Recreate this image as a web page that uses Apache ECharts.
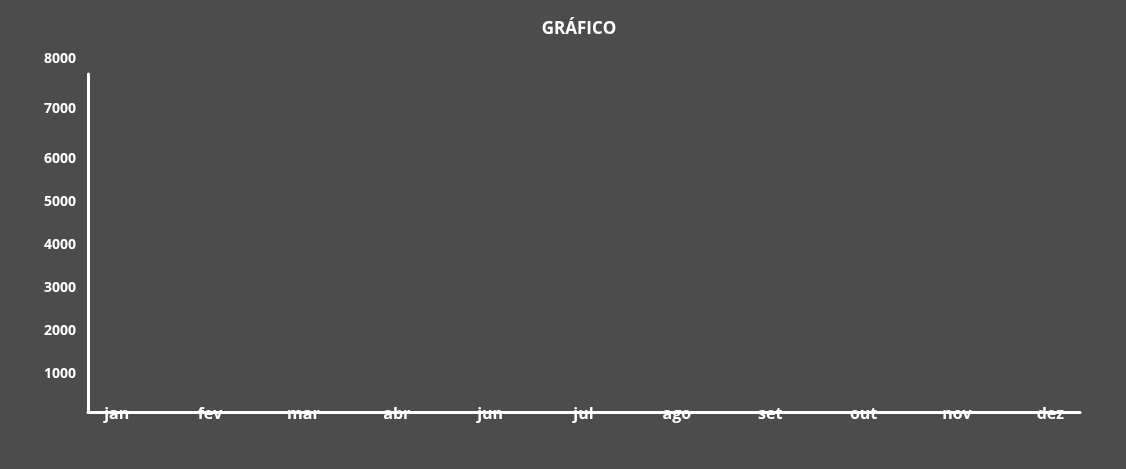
<!DOCTYPE html>
<html>
<head>
<meta charset="utf-8">
<script src="https://cdn.jsdelivr.net/npm/echarts@6/dist/echarts.min.js"></script>
<style>
html,body{margin:0;padding:0;background:#4c4c4c;}
#c{width:1126px;height:469px;}
</style>
</head>
<body>
<div id="c"></div>
<script>
const titleText = 'GRÁFICO';
const months = ['jan','fev','mar','abr','jun','jul','ago','set','out','nov','dez'];
const values = [];
const lowerTicks = [0, 6000, 1000];   // min, max, interval
const upperTicks = [6000, 8000, 1000];

const FONT = '"Open Sans", "Noto Sans", sans-serif';
const chart = echarts.init(document.getElementById('c'));
const yLabelAxis = (gi, ticks, hideVal) => ({
  type:'value', gridIndex:gi, min:ticks[0], max:ticks[1], interval:ticks[2],
  axisLine:{show:false}, axisTick:{show:false}, splitLine:{show:false},
  axisLabel:{show:true, color:'#ffffff', fontFamily:FONT, fontWeight:'bold', fontSize:14,
    align:'left', margin:44,
    formatter: v => (v === hideVal ? '' : String(v))}
});
chart.setOption({
  backgroundColor:'#4c4c4c',
  animation:false,
  title:{text:titleText, left:574, top:16, textAlign:'center',
    textStyle:{color:'#ffffff', fontFamily:FONT, fontWeight:'bold', fontSize:17}},
  grid:[
    {left:88, right:46, top:74, bottom:57},
    {left:70, right:29, top:74, bottom:57},
    {left:88, right:46, top:159, bottom:52},
    {left:88, right:46, top:59, height:100}
  ],
  xAxis:[
    {type:'category', gridIndex:0, data:months, z:5, boundaryGap:true,
      axisLine:{show:true, lineStyle:{color:'#ffffff', width:3}},
      axisTick:{show:false}, axisLabel:{show:false}, splitLine:{show:false}},
    {type:'category', gridIndex:1, data:months, z:0,
      axisLine:{show:false}, axisTick:{show:false}, splitLine:{show:false},
      axisLabel:{show:true, color:'#ffffff', fontFamily:FONT, fontWeight:'bold', fontSize:16, margin:-6, interval:0}},
    {type:'category', gridIndex:2, data:months, show:false},
    {type:'category', gridIndex:3, data:months, show:false}
  ],
  yAxis:[
    {type:'value', gridIndex:0, min:0, max:8000, z:5,
      axisLine:{show:true, lineStyle:{color:'#ffffff', width:3, cap:'round'}},
      axisTick:{show:false}, axisLabel:{show:false}, splitLine:{show:false}},
    {type:'value', gridIndex:1, show:false},
    yLabelAxis(2, lowerTicks, 0),
    yLabelAxis(3, upperTicks, 6000)
  ],
  series:[
    {type:'line', xAxisIndex:0, yAxisIndex:0, data:values, showSymbol:false}
  ]
});
</script>
</body>
</html>
